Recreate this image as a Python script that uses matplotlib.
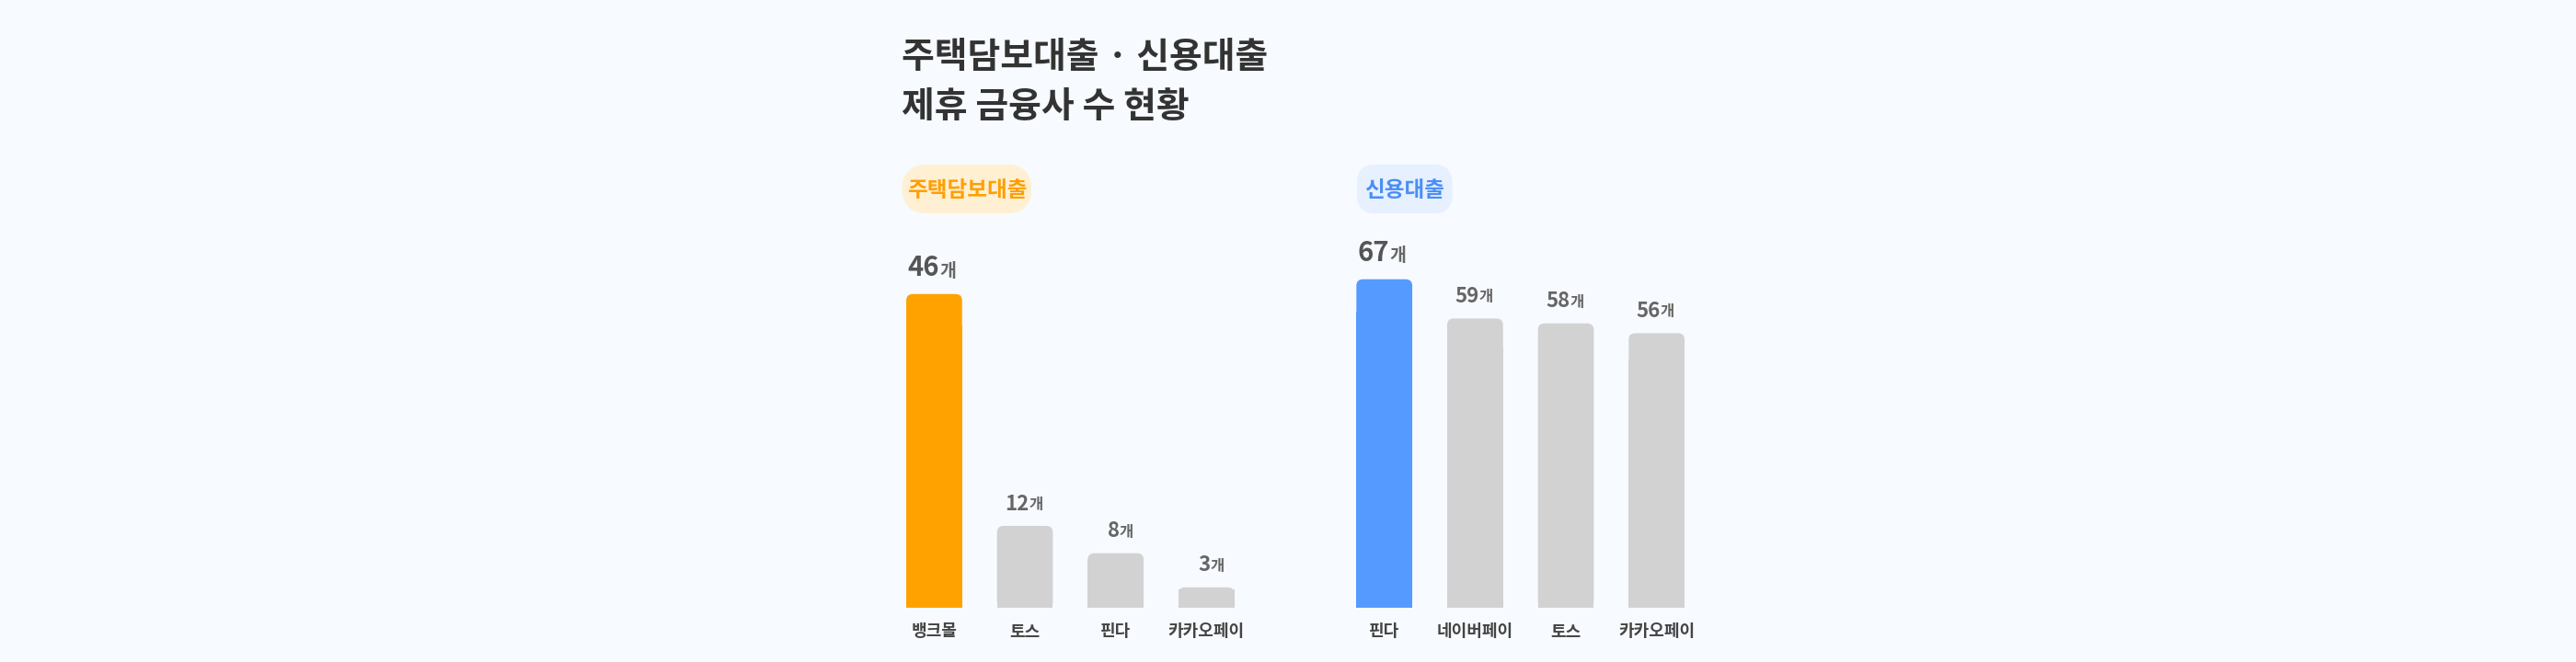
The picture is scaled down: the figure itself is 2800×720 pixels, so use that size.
import matplotlib
matplotlib.use("Agg")
import matplotlib.pyplot as plt
from matplotlib.patches import FancyBboxPatch, Rectangle

plt.rcParams["font.family"] = ["Noto Sans CJK KR", "Noto Sans CJK JP", "Noto Sans CJK SC", "DejaVu Sans"]

# data
mort_names = ["뱅크몰", "토스", "핀다", "카카오페이"]
mort_values = [46, 12, 8, 3]
credit_names = ["핀다", "네이버페이", "토스", "카카오페이"]
credit_values = [67, 59, 58, 56]

W, H = 2800, 720
BG = "#F7FAFE"

fig = plt.figure(figsize=(W / 100, H / 100), dpi=100, facecolor=BG)


def fx(x):
    return x / 1568


def fy(y):
    return 1 - y / 403


# title
fig.text(fx(549), fy(35), "주택담보대출 · 신용대출", fontsize=28, fontweight="bold",
         color="#333333", va="center")
fig.text(fx(549), fy(65), "제휴 금융사 수 현황", fontsize=28, fontweight="bold",
         color="#333333", va="center")


def badge(x0, x1, text, bg, fg):
    ax = fig.add_axes([fx(x0), fy(130), fx(x1 - x0), fy(100) - fy(130)])
    ax.set_xlim(0, 1)
    ax.set_ylim(0, 1)
    ax.axis("off")
    ax.add_patch(FancyBboxPatch((0, 0), 1, 1, boxstyle="round,pad=0,rounding_size=0.2",
                                mutation_aspect=(x1 - x0) / 30, fc=bg, ec="none"))
    ax.text(0.5, 0.48, text, ha="center", va="center", fontsize=17,
            fontweight="bold", color=fg)


def panel(left, names, values, hi_color, top_px):
    right = left + 221
    ax = fig.add_axes([fx(left), fy(370), fx(right - left), fy(top_px - 30) - fy(370)])
    ax.set_facecolor("none")
    vmax = max(values)
    ymax = vmax * (370 - (top_px - 30)) / (370 - top_px)
    ax.set_xlim(-0.5, 3.5)
    ax.set_ylim(0, ymax)
    ax.axis("off")
    xpp = 4 / 221
    ypp = ymax / (370 - (top_px - 30))
    bw = 34 * xpp
    r = 4 * xpp
    for i, (n, v) in enumerate(zip(names, values)):
        c = hi_color if i == 0 else "#D2D2D2"
        ax.add_patch(Rectangle((i - bw / 2, 0), bw, v * 0.9, fc=c, ec="none",
                               lw=0, antialiased=False))
        ax.add_patch(FancyBboxPatch((i - bw / 2, 0), bw, v,
                                    boxstyle=f"round,pad=0,rounding_size={r}",
                                    mutation_aspect=ypp / xpp, fc=c, ec="none", lw=0))
        big = i == 0
        dy = 10 if big else 9
        ax.annotate(f"{v}", (i, v), xytext=(4 if big else 3, dy),
                    textcoords="offset points", ha="right",
                    va="bottom", fontsize=21 if big else 16, fontweight="bold",
                    color="#555555" if big else "#666666")
        ax.annotate("개", (i, v), xytext=(4 if big else 3, dy + 1),
                    textcoords="offset points", ha="left", va="bottom",
                    fontsize=14 if big else 12, fontweight="bold", color="#666666")
        ax.text(i, -14 * ypp, n, ha="center", va="center", fontsize=13,
                fontweight="bold", color="#444444", clip_on=False)


badge(549, 628, "주택담보대출", "#FFF0D4", "#FF9F00")
badge(826, 884, "신용대출", "#E6F0FF", "#4A8EF7")
panel(541, mort_names, mort_values, "#FFA200", 179)
panel(815, credit_names, credit_values, "#559BFF", 170)

fig.savefig("out.png", dpi=100, facecolor=BG)
